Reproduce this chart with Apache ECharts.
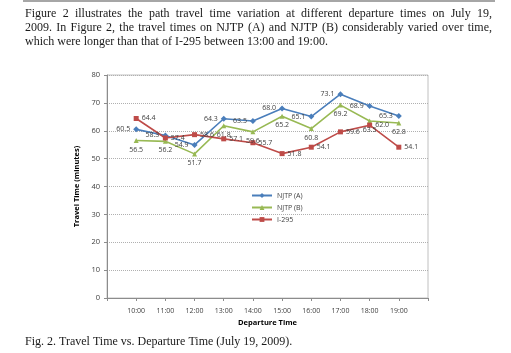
<!DOCTYPE html>
<html>
<head>
<meta charset="utf-8">
<script src="https://cdn.jsdelivr.net/npm/echarts@6/dist/echarts.min.js"></script>
<style>
  html, body { margin: 0; padding: 0; background: #fff; }
  #chart { width: 511px; height: 353px; }
</style>
</head>
<body>
<div id="chart"></div>
<script>
// departure hours (10:00 .. 19:00)
var hours = [10, 11, 12, 13, 14, 15, 16, 17, 18, 19];
var njtpA = [60.5, 58.3, 54.9, 64.3, 63.5, 68.0, 65.1, 73.1, 68.9, 65.3];
var njtpB = [56.5, 56.2, 51.7, 61.8, 59.6, 65.2, 60.8, 69.2, 63.5, 62.8];
var i295 = [64.4, 57.4, 58.6, 57.1, 55.7, 51.8, 54.1, 59.6, 62.0, 54.1];
var yTicks = [0, 10, 20, 30, 40, 50, 60, 70, 80];

var paragraph = [
  'Figure 2 illustrates the path travel time variation at different departure times on July 19,',
  '2009. In Figure 2, the travel times on NJTP (A) and NJTP (B) considerably varied over time,',
  'which were longer than that of I-295 between 13:00 and 19:00.'
];
var caption = 'Fig. 2. Travel Time vs. Departure Time (July 19, 2009).';

function pairs(vals) {
  return hours.map(function (h, i) { return [h, vals[i]]; });
}

var textFont = '12px "Liberation Serif"';
var ctx = document.createElement('canvas').getContext('2d');
ctx.font = textFont;

// justified paragraph lines: one text element per word
function justifiedLine(line, x0, x1, top) {
  var words = line.split(' ');
  var widths = words.map(function (w) { return ctx.measureText(w).width; });
  var total = widths.reduce(function (a, b) { return a + b; }, 0);
  var gap = (x1 - x0 - total) / (words.length - 1);
  var x = x0;
  return words.map(function (w, i) {
    var el = { type: 'text', x: x, y: top, style: { text: w, font: textFont, fill: '#1a1a1a' } };
    x += widths[i] + gap;
    return el;
  });
}

var graphics = [
  { type: 'rect', shape: { x: 23, y: 0, width: 472, height: 2 }, style: { fill: '#a6a6a6' } }
];
graphics = graphics.concat(justifiedLine(paragraph[0], 25, 492, 8));
graphics = graphics.concat(justifiedLine(paragraph[1], 25, 492, 22));
graphics.push({ type: 'text', x: 25, y: 36, style: { text: paragraph[2], font: textFont, fill: '#1a1a1a' } });
graphics.push({ type: 'text', x: 25, y: 336, style: { text: caption, font: textFont, fill: '#1a1a1a' } });

var labelStyle = { show: true, fontSize: 7, color: '#404040', fontFamily: 'Open Sans', formatter: function (p) { return p.value[1].toFixed(1); } };

var myChart = echarts.init(document.getElementById('chart'));

myChart.setOption({
  animation: false,
  grid: { left: 107, right: 83, top: 75, bottom: 55, show: true, borderColor: '#c0c0c0', borderWidth: 1 },
  legend: {
    orient: 'vertical',
    left: 246,
    top: 187,
    itemWidth: 20,
    itemHeight: 6,
    itemGap: 5,
    textStyle: { fontSize: 7, color: '#404040', fontFamily: 'Open Sans' },
    data: ['NJTP (A)', 'NJTP (B)', 'I-295']
  },
  xAxis: {
    type: 'value',
    min: 9,
    max: 20,
    interval: 1,
    name: 'Departure Time',
    nameLocation: 'middle',
    nameGap: 20,
    nameTextStyle: { fontSize: 7.5, fontWeight: 'bold', color: '#000', fontFamily: 'Open Sans' },
    axisLine: { lineStyle: { color: '#8c8c8c', width: 1 } },
    axisTick: { show: true, length: 3, lineStyle: { color: '#8c8c8c' } },
    axisLabel: {
      fontSize: 7, color: '#404040', fontFamily: 'Open Sans', margin: 9,
      formatter: function (v) { return (v >= 10 && v <= 19) ? v + ':00' : ''; }
    },
    splitLine: { show: false }
  },
  yAxis: {
    type: 'value',
    min: yTicks[0],
    max: yTicks[yTicks.length - 1],
    interval: 10,
    name: 'Travel Time (minutes)',
    nameLocation: 'middle',
    nameGap: 22,
    nameTextStyle: { fontSize: 7.5, fontWeight: 'bold', color: '#000', fontFamily: 'Open Sans' },
    axisLine: { show: true, lineStyle: { color: '#8c8c8c', width: 1 } },
    axisTick: { show: true, length: 3, lineStyle: { color: '#8c8c8c' } },
    axisLabel: { fontSize: 7.5, color: '#404040', fontFamily: 'Open Sans', margin: 7 },
    splitLine: { show: true, lineStyle: { color: '#b0b0b0', type: 'dotted', width: 1 } }
  },
  series: [
    {
      name: 'NJTP (A)', type: 'line', data: pairs(njtpA),
      symbol: 'diamond', symbolSize: 6,
      lineStyle: { color: '#4a7ebb', width: 1.6 },
      itemStyle: { color: '#4a7ebb' },
      label: Object.assign({ position: 'left', distance: 3 }, labelStyle)
    },
    {
      name: 'NJTP (B)', type: 'line', data: pairs(njtpB),
      symbol: 'triangle', symbolSize: 5,
      lineStyle: { color: '#98b954', width: 1.6 },
      itemStyle: { color: '#98b954' },
      label: Object.assign({ position: 'bottom', distance: 3 }, labelStyle)
    },
    {
      name: 'I-295', type: 'line', data: pairs(i295),
      symbol: 'rect', symbolSize: 5,
      lineStyle: { color: '#be4b48', width: 1.6 },
      itemStyle: { color: '#be4b48' },
      label: Object.assign({ position: 'right', distance: 3 }, labelStyle)
    }
  ],
  graphic: graphics
});
</script>
</body>
</html>
